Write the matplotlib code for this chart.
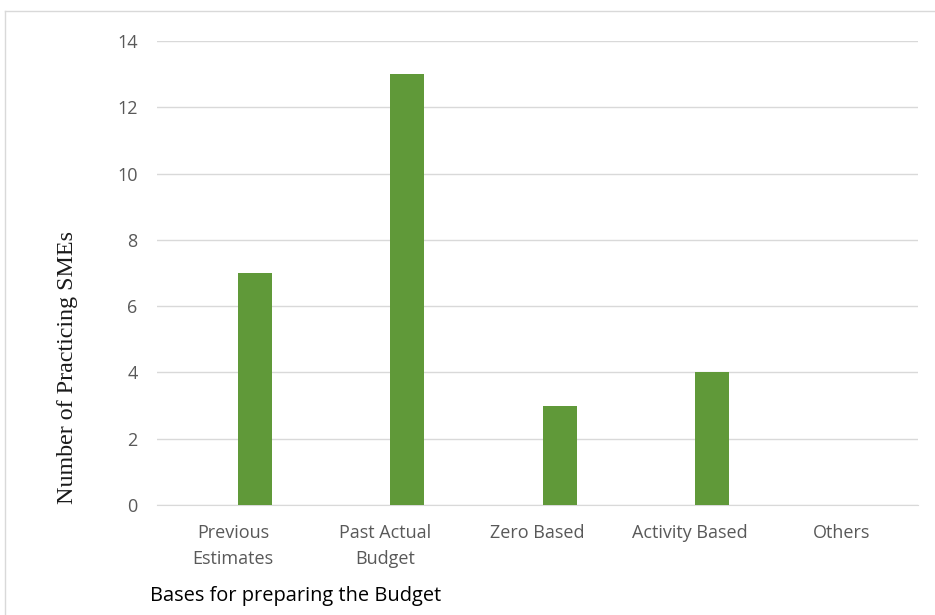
import numpy as np
import matplotlib.pyplot as plt
from matplotlib.lines import Line2D

categories = ['Previous\nEstimates', 'Past Actual\nBudget', 'Zero Based', 'Activity Based', 'Others']
smes = [7, 13, 3, 4, 0]
y_ticks = [0, 2, 4, 6, 8, 10, 12, 14]

fig = plt.figure(figsize=(9.35, 6.15), dpi=100)
ax = fig.add_axes([157 / 935, 1 - 505 / 615, 761 / 935, 464 / 615])

x = np.arange(len(categories))
# bars sit right of the category centre (empty first series in the original)
ax.bar(x + 0.145, smes, width=0.223, color='#609939', zorder=3)

ax.set_xlim(-0.5, len(categories) - 0.5)
ax.set_ylim(0, 14)
ax.set_yticks(y_ticks)
ax.set_xticks(x)
ax.set_xticklabels(categories, family=['Open Sans', 'DejaVu Sans'], fontsize=13,
                   color='#595959', linespacing=1.55)
ax.set_yticklabels([str(t) for t in y_ticks], family=['Open Sans', 'DejaVu Sans'],
                   fontsize=13, color='#595959')
ax.tick_params(axis='both', length=0)
ax.tick_params(axis='y', pad=14)
ax.tick_params(axis='x', pad=14)
ax.grid(axis='y', color='#d9d9d9', linewidth=1, zorder=0)
for s in ['top', 'right', 'left']:
    ax.spines[s].set_visible(False)
ax.spines['bottom'].set_color('#d9d9d9')

fig.text(68 / 935, 1 - 368 / 615, 'Number of Practicing SMEs', rotation=90, ha='center', va='center',
         family=['Liberation Serif', 'DejaVu Serif'], fontsize=17.3, color='#1a1a1a')
fig.text(150 / 935, 1 - 596 / 615, 'Bases for preparing the Budget', ha='left', va='center',
         family=['Open Sans', 'DejaVu Sans'], fontsize=14.4, color='black')

# light frame around the chart area
fig.add_artist(Line2D([5 / 935, 5 / 935], [0, 1 - 11 / 615], transform=fig.transFigure,
                      color='#d9d9d9', linewidth=1))
fig.add_artist(Line2D([5 / 935, 1], [1 - 11 / 615, 1 - 11 / 615], transform=fig.transFigure,
                      color='#d9d9d9', linewidth=1))

plt.savefig('out.png', dpi=100)
